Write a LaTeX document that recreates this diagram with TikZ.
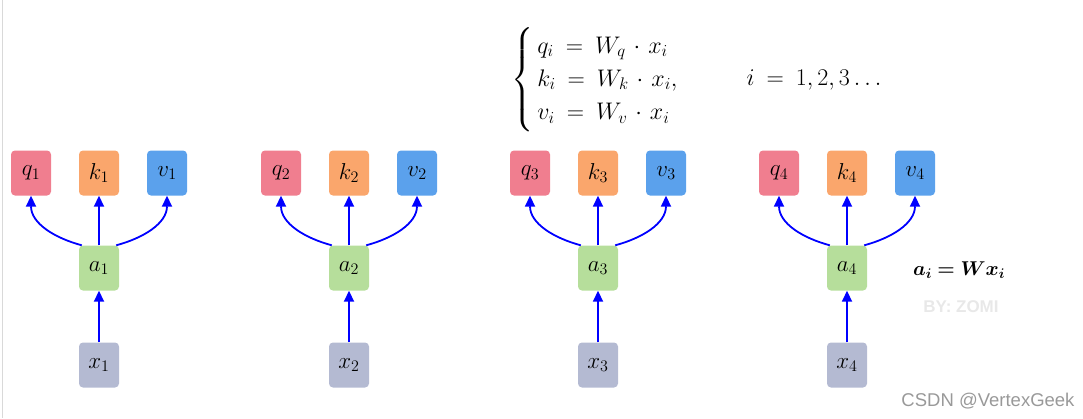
\documentclass[tikz,border=0pt]{standalone}
\usepackage{fix-cm}
\usepackage{amsmath}
\usepackage{bm}
\usepackage{fontspec}
\newfontfamily\wmfont{Liberation Sans}
\usetikzlibrary{arrows.meta}
\newlength{\du}
\setlength{\du}{1pt}
\newcommand{\eqspacing}{\thickmuskip=9mu\relax\medmuskip=6mu\relax}

\begin{document}
\begin{tikzpicture}[
  qkvbox/.style={rounded corners=4\du, inner sep=0pt, minimum width=40\du, minimum height=45\du,
    font=\fontsize{23}{26}\selectfont},
  qbox/.style={qkvbox, fill=qcolor},
  kbox/.style={qkvbox, fill=kcolor},
  vbox/.style={qkvbox, fill=vcolor},
  abox/.style={qkvbox, fill=acolor},
  xbox/.style={qkvbox, fill=xincolor},
  flow/.style={draw=flowcolor, line width=1.8\du, -{Triangle[length=11pt,width=10pt]}},
  eqfont/.style={font=\fontsize{24}{26}\selectfont}
]
\pgftransformxscale{1.000000}
\pgftransformyscale{-1.000000}
\definecolor{qcolor}{rgb}{0.941176, 0.494118, 0.560784}
\definecolor{kcolor}{rgb}{0.980392, 0.650980, 0.423529}
\definecolor{vcolor}{rgb}{0.356863, 0.631373, 0.925490}
\definecolor{acolor}{rgb}{0.713725, 0.870588, 0.607843}
\definecolor{xincolor}{rgb}{0.705882, 0.729412, 0.823529}
\definecolor{flowcolor}{rgb}{0.000000, 0.000000, 1.000000}
\definecolor{edgecolor}{rgb}{0.850000, 0.850000, 0.850000}
\useasboundingbox (0\du,0\du) rectangle (1083\du,418\du);
% left border line
\draw[edgecolor, line width=1\du] (2.5\du,0\du) -- (2.5\du,418\du);
% formula
\node[eqfont, anchor=west, inner sep=0pt] (formula) at (511.000000\du,80.000000\du){%
  $\eqspacing\begin{cases}\, q_i = W_q\cdot x_i\\[2pt] \, k_i = W_k\cdot x_i,\\[2pt] \, v_i = W_v\cdot x_i\end{cases}$};
\node[eqfont] (index) at (814.000000\du,80.000000\du){$\eqspacing i = 1, 2, 3\ldots$};
% group 1
\node[qbox] (q1) at (31.000000\du,173.000000\du){$q_1$};
\node[kbox] (k1) at (99.000000\du,173.000000\du){$k_1$};
\node[vbox] (v1) at (167.000000\du,173.000000\du){$v_1$};
\node[abox] (a1) at (99.000000\du,268.000000\du){$a_1$};
\node[xbox] (x1) at (99.000000\du,365.000000\du){$x_1$};
\draw[flow] (x1) -- (a1);
\draw[flow] (a1) -- (k1);
\draw[flow] ([xshift=3\du]a1.north west) to[out=195, in=90] (q1.south);
\draw[flow] ([xshift=-3\du]a1.north east) to[out=-15, in=90] (v1.south);
% group 2
\node[qbox] (q2) at (281.000000\du,173.000000\du){$q_2$};
\node[kbox] (k2) at (349.000000\du,173.000000\du){$k_2$};
\node[vbox] (v2) at (417.000000\du,173.000000\du){$v_2$};
\node[abox] (a2) at (349.000000\du,268.000000\du){$a_2$};
\node[xbox] (x2) at (349.000000\du,365.000000\du){$x_2$};
\draw[flow] (x2) -- (a2);
\draw[flow] (a2) -- (k2);
\draw[flow] ([xshift=3\du]a2.north west) to[out=195, in=90] (q2.south);
\draw[flow] ([xshift=-3\du]a2.north east) to[out=-15, in=90] (v2.south);
% group 3
\node[qbox] (q3) at (530.000000\du,173.000000\du){$q_3$};
\node[kbox] (k3) at (598.000000\du,173.000000\du){$k_3$};
\node[vbox] (v3) at (666.000000\du,173.000000\du){$v_3$};
\node[abox] (a3) at (598.000000\du,268.000000\du){$a_3$};
\node[xbox] (x3) at (598.000000\du,365.000000\du){$x_3$};
\draw[flow] (x3) -- (a3);
\draw[flow] (a3) -- (k3);
\draw[flow] ([xshift=3\du]a3.north west) to[out=195, in=90] (q3.south);
\draw[flow] ([xshift=-3\du]a3.north east) to[out=-15, in=90] (v3.south);
% group 4
\node[qbox] (q4) at (779.000000\du,173.000000\du){$q_4$};
\node[kbox] (k4) at (847.000000\du,173.000000\du){$k_4$};
\node[vbox] (v4) at (915.000000\du,173.000000\du){$v_4$};
\node[abox] (a4) at (847.000000\du,268.000000\du){$a_4$};
\node[xbox] (x4) at (847.000000\du,365.000000\du){$x_4$};
\draw[flow] (x4) -- (a4);
\draw[flow] (a4) -- (k4);
\draw[flow] ([xshift=3\du]a4.north west) to[out=195, in=90] (q4.south);
\draw[flow] ([xshift=-3\du]a4.north east) to[out=-15, in=90] (v4.south);
% side formula and marks
\node (alabel) at (959.000000\du,270.000000\du){\fontsize{20}{24}\selectfont $\bm{a_i = W x_i}$};
\node[text=black!9] (bymark) at (961.000000\du,307.000000\du){\wmfont\bfseries\fontsize{17}{20}\selectfont BY: ZOMI};
\node[text=black!40, anchor=east] (csdnmark) at (1078.000000\du,401.000000\du){\wmfont\fontsize{18.5}{21}\selectfont CSDN @VertexGeek};
\end{tikzpicture}
\end{document}
